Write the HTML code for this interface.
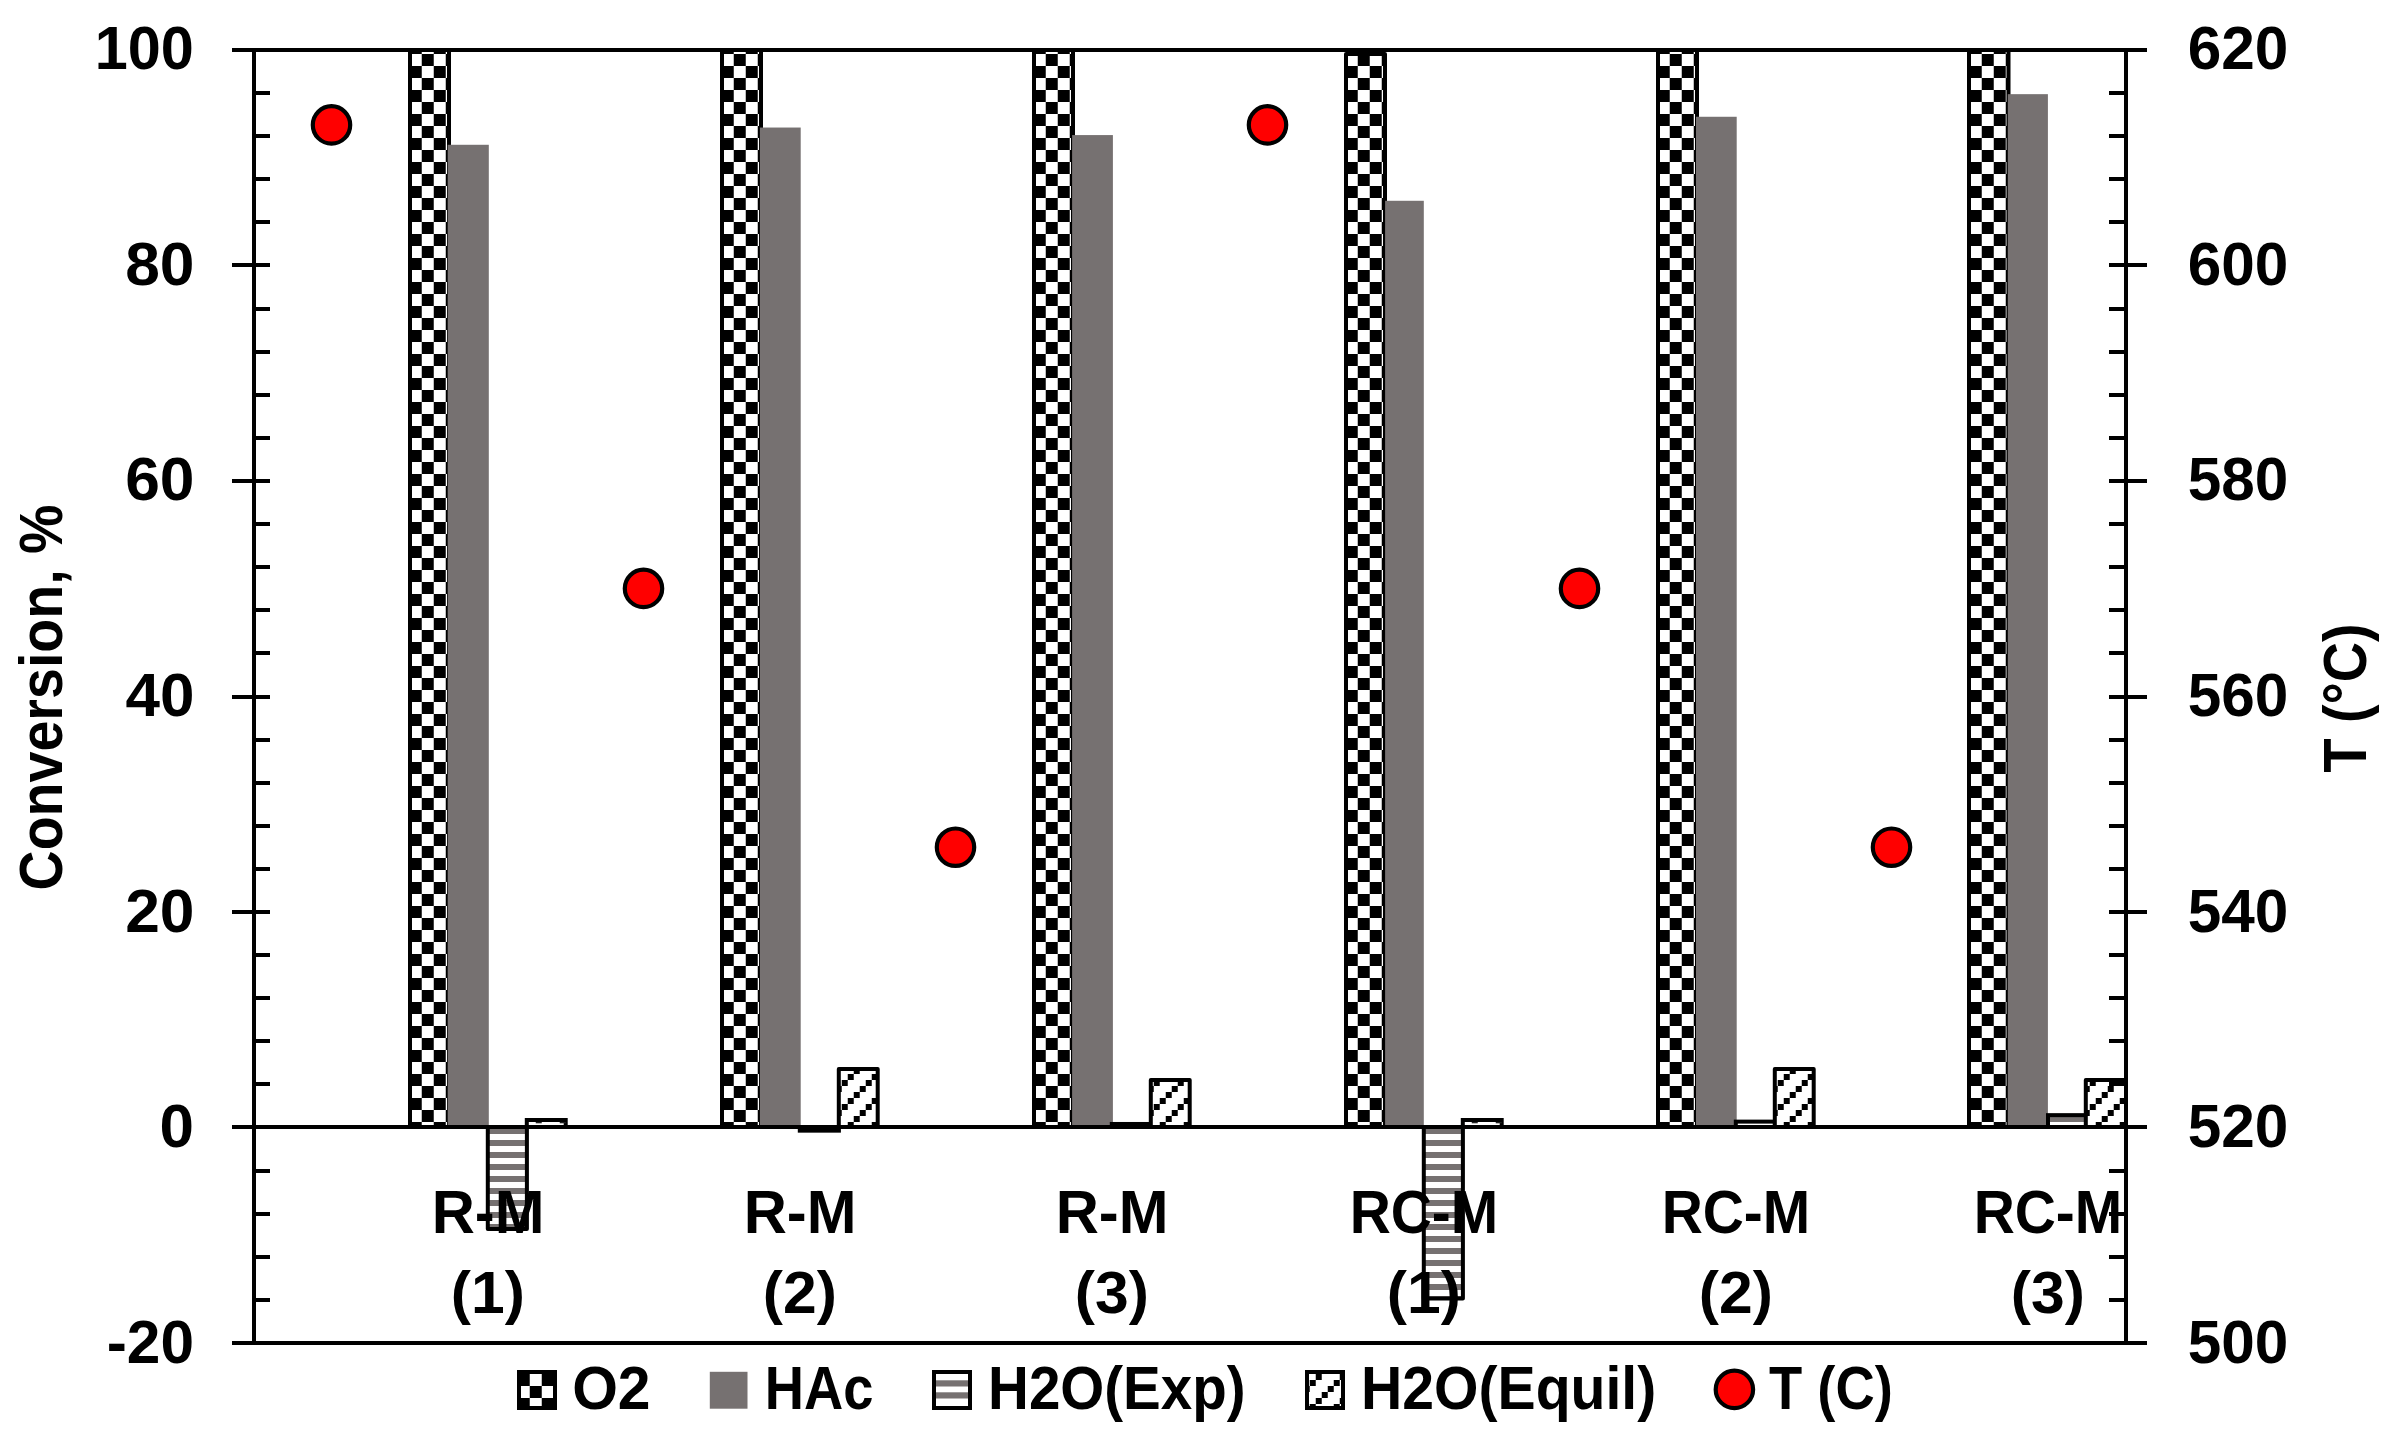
<!DOCTYPE html>
<html lang="en"><head><meta charset="utf-8"><title>Conversion chart</title>
<style>html,body{margin:0;padding:0;background:#fff}svg{display:block}text{font-family:"Liberation Sans",sans-serif;font-weight:bold;fill:#000}</style></head><body>
<svg width="2396" height="1446" viewBox="0 0 2396 1446">
<defs>
<pattern id="chk" patternUnits="userSpaceOnUse" x="1.75" y="6" width="24" height="24"><rect width="24" height="24" fill="#fff"/><rect x="12" y="0" width="12" height="12" fill="#000"/><rect x="0" y="12" width="12" height="12" fill="#000"/></pattern>
<pattern id="hst" patternUnits="userSpaceOnUse" x="0" y="0" width="12" height="12"><rect width="12" height="12" fill="#fff"/><rect width="12" height="6" fill="#767171"/></pattern>
<pattern id="dia" patternUnits="userSpaceOnUse" x="1.75" y="0" width="24" height="24"><rect width="24" height="24" fill="#fff"/><rect x="0" y="0" width="6" height="6" fill="#000"/><rect x="18" y="6" width="6" height="6" fill="#000"/><rect x="12" y="12" width="6" height="6" fill="#000"/><rect x="6" y="18" width="6" height="6" fill="#000"/></pattern>
</defs>
<rect width="2396" height="1446" fill="#fff"/>
<g id="bars">
<rect x="410.00" y="50.00" width="39.00" height="1077.00" fill="url(#chk)" stroke="#000" stroke-width="4" stroke-linejoin="round"/>
<rect x="447.70" y="144.78" width="41.10" height="982.22" fill="#767171"/>
<rect x="487.80" y="1127.00" width="39.10" height="101.99" fill="url(#hst)" stroke="#000" stroke-width="4" stroke-linejoin="round"/>
<rect x="526.80" y="1120.00" width="38.90" height="7.00" fill="#fff" stroke="#000" stroke-width="4" stroke-linejoin="miter"/>
<rect x="535.75" y="1122" width="6" height="1.3" fill="#222"/>
<rect x="559.75" y="1122" width="6" height="1.3" fill="#222"/>
<rect x="722.00" y="50.00" width="39.00" height="1077.00" fill="url(#chk)" stroke="#000" stroke-width="4" stroke-linejoin="round"/>
<rect x="759.90" y="127.54" width="40.80" height="999.46" fill="#767171"/>
<rect x="799.80" y="1127.00" width="39.10" height="3.66" fill="url(#hst)" stroke="#000" stroke-width="4" stroke-linejoin="miter"/>
<rect x="838.80" y="1068.95" width="38.90" height="58.05" fill="url(#dia)" stroke="#000" stroke-width="4" stroke-linejoin="round"/>
<rect x="1034.00" y="50.00" width="39.00" height="1077.00" fill="url(#chk)" stroke="#000" stroke-width="4" stroke-linejoin="round"/>
<rect x="1072.10" y="135.08" width="40.80" height="991.92" fill="#767171"/>
<rect x="1111.80" y="1123.98" width="39.10" height="3.02" fill="url(#hst)" stroke="#000" stroke-width="4" stroke-linejoin="miter"/>
<rect x="1150.80" y="1080.04" width="38.90" height="46.96" fill="url(#dia)" stroke="#000" stroke-width="4" stroke-linejoin="round"/>
<rect x="1346.00" y="53.98" width="39.00" height="1073.02" fill="url(#chk)" stroke="#000" stroke-width="4" stroke-linejoin="round"/>
<rect x="1385.10" y="200.78" width="38.70" height="926.22" fill="#767171"/>
<rect x="1423.80" y="1127.00" width="39.10" height="171.57" fill="url(#hst)" stroke="#000" stroke-width="4" stroke-linejoin="round"/>
<rect x="1462.80" y="1120.00" width="38.90" height="7.00" fill="#fff" stroke="#000" stroke-width="4" stroke-linejoin="miter"/>
<rect x="1471.75" y="1122" width="6" height="1.3" fill="#222"/>
<rect x="1495.75" y="1122" width="6" height="1.3" fill="#222"/>
<rect x="1658.00" y="50.00" width="39.00" height="1077.00" fill="url(#chk)" stroke="#000" stroke-width="4" stroke-linejoin="round"/>
<rect x="1696.00" y="116.77" width="40.70" height="1010.23" fill="#767171"/>
<rect x="1735.80" y="1121.62" width="39.10" height="5.38" fill="url(#hst)" stroke="#000" stroke-width="4" stroke-linejoin="miter"/>
<rect x="1774.80" y="1068.95" width="38.90" height="58.05" fill="url(#dia)" stroke="#000" stroke-width="4" stroke-linejoin="round"/>
<rect x="1969.00" y="50.00" width="39.50" height="1077.00" fill="url(#chk)" stroke="#000" stroke-width="4" stroke-linejoin="round"/>
<rect x="2007.80" y="94.16" width="40.10" height="1032.84" fill="#767171"/>
<rect x="2048.00" y="1115.15" width="38.00" height="11.85" fill="url(#hst)" stroke="#000" stroke-width="4" stroke-linejoin="miter"/>
<rect x="2085.80" y="1080.04" width="40.20" height="46.96" fill="url(#dia)" stroke="#000" stroke-width="4" stroke-linejoin="round"/>
</g>
<g id="axes" fill="#000" shape-rendering="crispEdges">
<rect x="252" y="48" width="4" height="1297"/>
<rect x="2124" y="48" width="4" height="1297"/>
<rect x="232" y="48" width="1915" height="4"/>
<rect x="232" y="1125" width="1915" height="4"/>
<rect x="232" y="1341" width="1915" height="4"/>
<rect x="232" y="48" width="38" height="4"/>
<rect x="2109" y="48" width="38" height="4"/>
<rect x="254" y="91" width="16" height="4"/>
<rect x="2109" y="91" width="17" height="4"/>
<rect x="254" y="134" width="16" height="4"/>
<rect x="2109" y="134" width="17" height="4"/>
<rect x="254" y="177" width="16" height="4"/>
<rect x="2109" y="177" width="17" height="4"/>
<rect x="254" y="220" width="16" height="4"/>
<rect x="2109" y="220" width="17" height="4"/>
<rect x="232" y="263" width="38" height="4"/>
<rect x="2109" y="263" width="38" height="4"/>
<rect x="254" y="307" width="16" height="4"/>
<rect x="2109" y="307" width="17" height="4"/>
<rect x="254" y="350" width="16" height="4"/>
<rect x="2109" y="350" width="17" height="4"/>
<rect x="254" y="393" width="16" height="4"/>
<rect x="2109" y="393" width="17" height="4"/>
<rect x="254" y="436" width="16" height="4"/>
<rect x="2109" y="436" width="17" height="4"/>
<rect x="232" y="479" width="38" height="4"/>
<rect x="2109" y="479" width="38" height="4"/>
<rect x="254" y="522" width="16" height="4"/>
<rect x="2109" y="522" width="17" height="4"/>
<rect x="254" y="565" width="16" height="4"/>
<rect x="2109" y="565" width="17" height="4"/>
<rect x="254" y="608" width="16" height="4"/>
<rect x="2109" y="608" width="17" height="4"/>
<rect x="254" y="651" width="16" height="4"/>
<rect x="2109" y="651" width="17" height="4"/>
<rect x="232" y="695" width="38" height="4"/>
<rect x="2109" y="695" width="38" height="4"/>
<rect x="254" y="738" width="16" height="4"/>
<rect x="2109" y="738" width="17" height="4"/>
<rect x="254" y="781" width="16" height="4"/>
<rect x="2109" y="781" width="17" height="4"/>
<rect x="254" y="824" width="16" height="4"/>
<rect x="2109" y="824" width="17" height="4"/>
<rect x="254" y="867" width="16" height="4"/>
<rect x="2109" y="867" width="17" height="4"/>
<rect x="232" y="910" width="38" height="4"/>
<rect x="2109" y="910" width="38" height="4"/>
<rect x="254" y="953" width="16" height="4"/>
<rect x="2109" y="953" width="17" height="4"/>
<rect x="254" y="996" width="16" height="4"/>
<rect x="2109" y="996" width="17" height="4"/>
<rect x="254" y="1039" width="16" height="4"/>
<rect x="2109" y="1039" width="17" height="4"/>
<rect x="254" y="1082" width="16" height="4"/>
<rect x="2109" y="1082" width="17" height="4"/>
<rect x="232" y="1125" width="38" height="4"/>
<rect x="2109" y="1125" width="38" height="4"/>
<rect x="254" y="1169" width="16" height="4"/>
<rect x="2109" y="1169" width="17" height="4"/>
<rect x="254" y="1212" width="16" height="4"/>
<rect x="2109" y="1212" width="17" height="4"/>
<rect x="254" y="1255" width="16" height="4"/>
<rect x="2109" y="1255" width="17" height="4"/>
<rect x="254" y="1298" width="16" height="4"/>
<rect x="2109" y="1298" width="17" height="4"/>
<rect x="232" y="1341" width="38" height="4"/>
<rect x="2109" y="1341" width="38" height="4"/>
</g>
<g id="markers" fill="#f00" stroke="#000" stroke-width="4.2">
<circle cx="331.50" cy="124.90" r="18.7"/>
<circle cx="643.50" cy="588.40" r="18.7"/>
<circle cx="955.50" cy="847.20" r="18.7"/>
<circle cx="1267.50" cy="124.90" r="18.7"/>
<circle cx="1579.50" cy="588.40" r="18.7"/>
<circle cx="1891.50" cy="847.20" r="18.7"/>
</g>
<g id="labels">
<text transform="translate(94.66,69.00) scale(0.9588,0.9900)" font-size="62">100</text>
<text transform="translate(125.19,284.67) scale(1.0047,0.9900)" font-size="62">80</text>
<text transform="translate(125.19,500.34) scale(1.0047,0.9900)" font-size="62">60</text>
<text transform="translate(125.50,716.01) scale(1.0000,0.9900)" font-size="62">40</text>
<text transform="translate(125.19,931.68) scale(1.0047,0.9900)" font-size="62">20</text>
<text transform="translate(159.50,1147.35) scale(1.0000,0.9900)" font-size="62">0</text>
<text transform="translate(106.75,1363.02) scale(0.9741,0.9900)" font-size="62">-20</text>
<text transform="translate(2187.75,69.00) scale(0.9727,0.9900)" font-size="62">620</text>
<text transform="translate(2187.75,284.67) scale(0.9727,0.9900)" font-size="62">600</text>
<text transform="translate(2187.75,500.34) scale(0.9727,0.9900)" font-size="62">580</text>
<text transform="translate(2187.75,716.01) scale(0.9727,0.9900)" font-size="62">560</text>
<text transform="translate(2187.75,931.68) scale(0.9727,0.9900)" font-size="62">540</text>
<text transform="translate(2187.75,1147.35) scale(0.9727,0.9900)" font-size="62">520</text>
<text transform="translate(2187.75,1363.02) scale(0.9727,0.9900)" font-size="62">500</text>
<text transform="translate(431.65,1232.70) scale(0.9633,0.9900)" font-size="62">R-M</text>
<text transform="translate(450.87,1312.50) scale(0.9771,0.9700)" font-size="62">(1)</text>
<text transform="translate(743.65,1232.70) scale(0.9633,0.9900)" font-size="62">R-M</text>
<text transform="translate(762.87,1312.50) scale(0.9771,0.9700)" font-size="62">(2)</text>
<text transform="translate(1055.65,1232.70) scale(0.9633,0.9900)" font-size="62">R-M</text>
<text transform="translate(1074.87,1312.50) scale(0.9771,0.9700)" font-size="62">(3)</text>
<text transform="translate(1349.63,1232.70) scale(0.9182,0.9900)" font-size="62">RC-M</text>
<text transform="translate(1386.87,1312.50) scale(0.9771,0.9700)" font-size="62">(1)</text>
<text transform="translate(1661.63,1232.70) scale(0.9182,0.9900)" font-size="62">RC-M</text>
<text transform="translate(1698.87,1312.50) scale(0.9771,0.9700)" font-size="62">(2)</text>
<text transform="translate(1973.63,1232.70) scale(0.9182,0.9900)" font-size="62">RC-M</text>
<text transform="translate(2010.87,1312.50) scale(0.9771,0.9700)" font-size="62">(3)</text>
<text transform="translate(572.16,1409.00) scale(0.9481,0.9900)" font-size="62">O2</text>
<text transform="translate(764.79,1409.00) scale(0.8763,0.9900)" font-size="62">HAc</text>
<text transform="translate(988.05,1409.00) scale(0.9120,0.9900)" font-size="62">H2O(Exp)</text>
<text transform="translate(1361.01,1409.00) scale(0.9220,0.9900)" font-size="62">H2O(Equil)</text>
<text transform="translate(1769.12,1409.00) scale(0.8759,0.9900)" font-size="62">T (C)</text>
<text transform="translate(62.40,890.49) rotate(-90) scale(0.8965,0.9900)" font-size="62">Conversion, %</text>
<text transform="translate(2366.00,772.50) rotate(-90) scale(0.8988,0.9900)" font-size="62">T (°C)</text>
</g>
<g id="legend">
<rect x="519.00" y="1372.00" width="36.00" height="36.00" fill="url(#chk)" stroke="#000" stroke-width="4" stroke-linejoin="miter"/>
<rect x="709.8" y="1371.8" width="37.7" height="36.9" fill="#767171"/>
<rect x="934.00" y="1372.00" width="36.00" height="36.00" fill="#fff" stroke="#000" stroke-width="4" stroke-linejoin="miter"/>
<rect x="936" y="1380.3" width="32" height="6.2" fill="#767171"/><rect x="936" y="1392.3" width="32" height="6.2" fill="#767171"/>
<rect x="1307.00" y="1372.00" width="36.00" height="36.00" fill="url(#dia)" stroke="#000" stroke-width="4" stroke-linejoin="miter"/>
<circle cx="1734.4" cy="1389.4" r="18.7" fill="#f00" stroke="#000" stroke-width="4.2"/>
</g>
</svg></body></html>
